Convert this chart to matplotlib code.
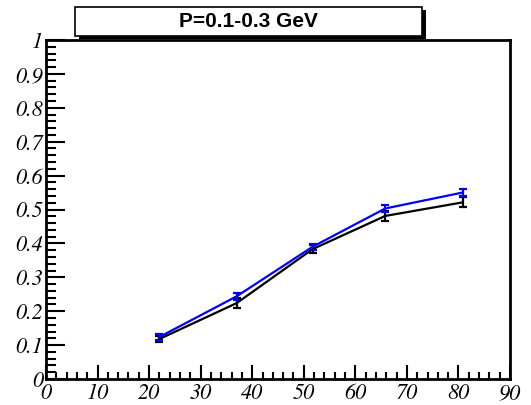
import matplotlib
matplotlib.use("Agg")
import matplotlib.pyplot as plt
from matplotlib.ticker import MultipleLocator
from matplotlib.patches import Rectangle
from matplotlib import font_manager
from matplotlib.font_manager import FontProperties

# measured points (x in whatever units, efficiency on y)
x_pts = [22.0, 37.0, 51.7, 65.8, 80.8]
eff_black = [0.118, 0.224, 0.383, 0.481, 0.521]
err_black = [0.010, 0.014, 0.012, 0.016, 0.015]
eff_blue = [0.124, 0.244, 0.390, 0.503, 0.550]
err_blue = [0.008, 0.010, 0.009, 0.010, 0.011]
title = "P=0.1-0.3 GeV"
x_ticks = [0, 10, 20, 30, 40, 50, 60, 70, 80, 90]
x_labels = ["0", "10", "20", "30", "40", "50", "60", "70", "80", "90"]
y_ticks = [0, 0.1, 0.2, 0.3, 0.4, 0.5, 0.6, 0.7, 0.8, 0.9, 1.0]
y_labels = ["0", "0.1", "0.2", "0.3", "0.4", "0.5", "0.6", "0.7", "0.8", "0.9", "1"]

# italic times-like font for the axis labels
ital = font_manager.findfont(FontProperties(family="TeX Gyre Termes", style="italic", weight="normal"))
fp = FontProperties(fname=ital, size=16)

fig = plt.figure(figsize=(5.31, 4.05), dpi=100)
ax = fig.add_axes([46 / 531, 1 - 379 / 405, 464 / 531, 339 / 405])

ax.errorbar(x_pts, eff_black, yerr=err_black, color="black", lw=1.6,
            elinewidth=1.6, capsize=3, capthick=1.6)
ax.errorbar(x_pts, eff_blue, yerr=err_blue, color="blue", lw=1.6,
            elinewidth=1.6, capsize=3, capthick=1.6)

ax.set_xlim(0, 90)
ax.set_ylim(0, 1)
ax.set_xticks(x_ticks, x_labels, fontproperties=fp)
ax.set_yticks(y_ticks, y_labels, fontproperties=fp)
ax.xaxis.set_minor_locator(MultipleLocator(2))
ax.yaxis.set_minor_locator(MultipleLocator(0.02))

for s in ax.spines.values():
    s.set_linewidth(2)
ax.tick_params(which="both", direction="in", top=False, right=False, width=1.5)
ax.tick_params(axis="y", which="major", length=14, pad=2)
ax.tick_params(axis="y", which="minor", length=7)
ax.tick_params(axis="x", which="major", length=10, pad=3)
ax.tick_params(axis="x", which="minor", length=5)

# title box with shadow, ROOT style
shadow = Rectangle((79 / 531, 1 - 39 / 405), 347 / 531, 29 / 405,
                   transform=fig.transFigure, facecolor="black", lw=0)
box = Rectangle((75 / 531, 1 - 36 / 405), 347 / 531, 29 / 405,
                transform=fig.transFigure, facecolor="white",
                edgecolor="black", lw=1.2)
fig.patches.extend([shadow, box])
fig.text(248 / 531, 1 - 21.5 / 405, title, ha="center", va="center",
         fontsize=15, fontweight="bold", family="Liberation Sans")

fig.savefig("out.png", dpi=100)
